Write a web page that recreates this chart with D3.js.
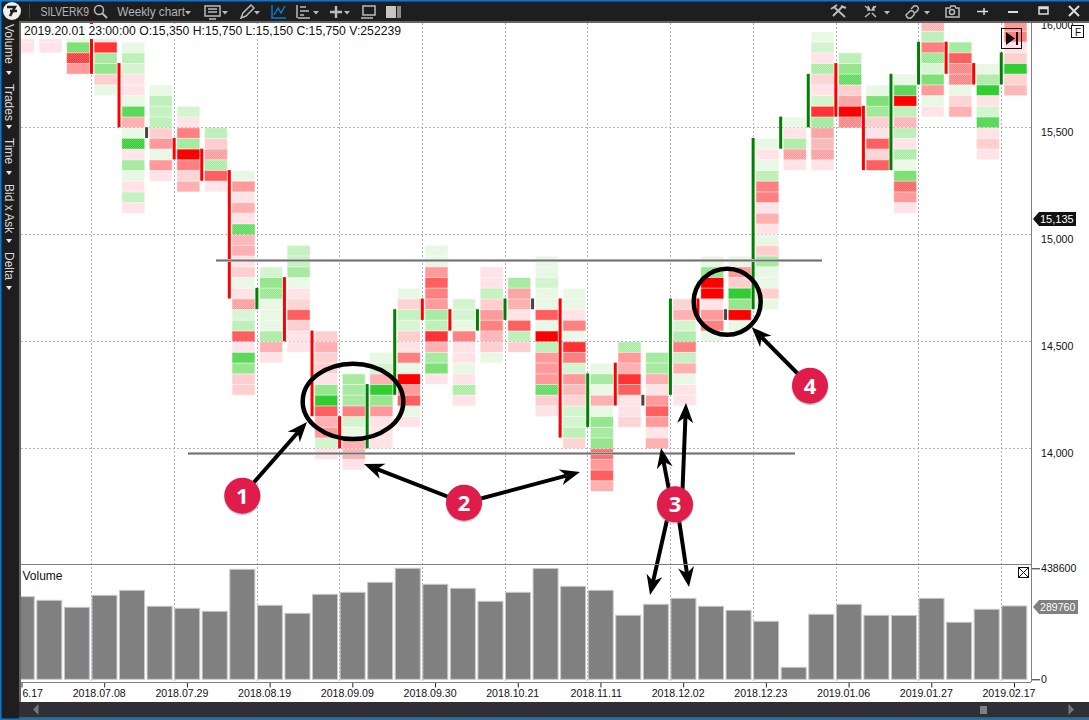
<!DOCTYPE html>
<html>
<head>
<meta charset="utf-8">
<script src="https://d3js.org/d3.v7.min.js"></script>
<style>
  html, body { margin: 0; padding: 0; background: white; overflow: hidden; }
  svg { display: block; }
  text { font-family: "Liberation Sans", Arial, sans-serif; }
</style>
</head>
<body>
<script>
// 37 weekly columns, index 0 is cut off by the left edge of the plot
const tickIndex = [0, 3, 6, 9, 12, 15, 18, 21, 24, 27, 30, 33, 36];
const tickLabels = ["6.17", "2018.07.08", "2018.07.29", "2018.08.19", "2018.09.09", "2018.09.30", "2018.10.21",
  "2018.11.11", "2018.12.02", "2018.12.23", "2019.01.06", "2019.01.27", "2019.02.17"];
const priceTicks = [14000, 14500, 15000, 15500, 16000];

const volumes = [326600, 312100, 284500, 331900, 351600, 288400, 280500, 268700, 434600, 292400, 260800, 335800,
  343700, 383200, 438600, 375300, 359500, 308200, 343700, 438000, 367400, 351600, 252900, 296300, 320000, 288400,
  272600, 229200, 47400, 256800, 296300, 252900, 252239, 320000, 225200, 276600, 289760];

// candle body per column, dir: 1 green, -1 red, 0 grey doji
const bodyHigh = [null, null, null, 16000, 15800, 15500, 15450, 15400, 15300, 14750, 14800, 14550, 14150, 14300, 14650,
  14700, 14650, 14650, 14700, 14700, 14700, 14350, 14400, 14250, 14700, 14700, 14650, 15450, 15550, 15750, 15800,
  15600, 15750, 15900, 15900, 15800, 15850];
const bodyLow = [null, null, null, 15750, 15500, 15450, 15350, 15250, 14700, 14650, 14500, 14150, 14000, 14000, 14250,
  14600, 14550, 14550, 14600, 14650, 14050, 14100, 14200, 14200, 14250, 14600, 14600, 14650, 15400, 15500, 15550,
  15300, 15300, 15700, 15750, 15700, 15700];
const bodyDir = [0, 0, 0, -1, -1, 0, -1, -1, -1, 1, -1, -1, -1, 1, 1, -1, -1, 1, 1, 0, -1, 1, -1, 0, 1, -1, 0, 1, 1, 1, -1,
  -1, 1, 1, -1, -1, 1];

// price of the top row of each footprint column
const topRow = [15950, 15950, 15950, 15950, 15900, 15700, 15600, 15500, 15300, 14850, 14950, 14550, 14350, 14450, 14750,
  14950, 14700, 14850, 14800, 14900, 14750, 14400, 14500, 14450, 14700, 14900, 14900, 15450, 15550, 15950, 15850,
  15700, 15750, 16000, 15900, 15800, 16000];

// delta of each footprint row from the top row downward, -8 full red .. 8 full green
const deltas = [
  [-1, -1],
  [-1, -1],
  [1, 6, -7, -4],
  [-1, -7, 4, 5, -2, 1],
  [1, 3, 2, -1, -1, 1, 7, -3, 1, 8, -1, 4, 1, -1, 3, -1],
  [1, 3, 3, 3, -2, -4, 1, -4, -1],
  [2, -1, -5, 4, -8, -5, -2, -3],
  [3, -2, -4, 4, -6, -1],
  [1, -4, -1, -3, -1, 7, -3, -3, -1, -2, 1, -1, -4, 2, 3, -6, -1, 7, 5, -2, -2],
  [2, 5, 5, 1, 1, 1, 4, -3, -1],
  [3, 3, 4, 1, -1, -2, -6, -2, -1, -1],
  [-2, -3, -2, -2, -1, 5, 8, -6, -3, -4, 2, -1],
  [4, 4, 4, -5, 2, 1, -3, -3, -1],
  [1, 2, -3, 8, 5, -4, -1, -1, -1],
  [1, -2, 3, 2, -2, -1, -5, 1, -8, -4, -6, 1, -1],
  [1, 1, -4, -6, -5, -4, 4, 3, -7, -3, 4, 6, -1],
  [2, 2, 1, -5, -1, -1, 1, -1, 4, -1],
  [-1, -1, 3, -2, -4, -5, -3, -2, 1],
  [4, -4, -3, -1, -6, 3, -2],
  [1, 1, 2, 1, 1, -6, 1, -8, 3, -4, -4, -4, 7, -2, -1],
  [1, 1, -1, -5, 1, -7, -5, 2, -4, -3, -2, 2, 2, 3, -2],
  [1, 4, 1, -3, 1, 5, 4, 5, -6, -4, -6, -3],
  [4, -4, -3, -7, -6, -1, -1, -2],
  [4, 4, -3, -1, -4, -6, -4, -1, -3],
  [-2, -3, 2, 4, -5, 3, -3, 1, -1, -1],
  [1, 5, -8, -8, -1, -4, -5, 1],
  [1, -4, -2, 8, 5, -8, 1],
  [1, -1, 1, 3, -5, -5, -1, -3, -1, 1, -2, 4, 1, 1, -2, 1],
  [1, -1, 4, -4, -1],
  [1, 2, -1, 4, -2, -1, 2, -7, 4, -4, -3, -4, -1],
  [3, 5, 7, -2, -4, -8, -5],
  [1, 6, 5, -2, -1, -6, -2, -6],
  [1, 7, -8, 3, -3, 3, -1, 4, 1, 6, -6, -4, -1],
  [-3, 3, -5, 5, 2, 6, -4, 1, -1],
  [4, -6, -5, -5, 1, -2, -3],
  [1, 4, 8, -1, 2, 7, -1, -2, -1],
  [-4, -5, -1, -2, 8, -2, -3]
];

// rows that look speckled in the picture: [column, price]
const speckled = [[2, 15850], [4, 15500], [4, 15450], [4, 15400], [4, 15200], [5, 15600], [6, 15300], [7, 15400], [7, 15350],
  [7, 15250], [8, 15050], [8, 15000], [8, 14700], [8, 14650], [8, 14500], [9, 14750], [9, 14550], [10, 14950], [10, 14900],
  [10, 14800], [10, 14700], [14, 14700], [14, 14650], [14, 14600], [16, 14300], [17, 14750], [17, 14550], [18, 14750],
  [19, 14300], [20, 14550], [20, 14300], [20, 14250], [20, 14050], [21, 14000], [22, 14500], [22, 14150], [23, 14100],
  [24, 14700], [24, 14550], [24, 14450], [28, 15450], [28, 15400], [29, 15800], [29, 15750], [29, 15500], [29, 15450],
  [29, 15400], [30, 15750], [30, 15650], [30, 15550], [31, 15600], [31, 15400], [32, 15550], [32, 15400], [32, 15350],
  [32, 15250], [33, 16000], [33, 15850], [33, 15800], [34, 15800], [34, 15750], [34, 15650], [35, 15750], [36, 15750], [36, 15700]];

const infoLine = "2019.20.01 23:00:00 O:15,350 H:15,750 L:15,150 C:15,750 V:252239";
const lastPrice = 15135;
const lastVolume = 289760;
const volumeMax = 438600;

const width = 1089, height = 720;
const plotL = 21, plotR = 1031, plotT = 23, mainB = 564, volB = 682;
const axisFont = 10.6;

const x = d3.scaleLinear().domain([0, 36]).range([21.5, 1014]);
const y = d3.scaleLinear().domain([14000, 15500]).range([448.3, 127.3]);
const yVol = d3.scaleLinear().domain([0, volumeMax]).range([679.3, 568.3]);
const rowH = y(15000) - y(15050);
const left = i => x(i) - 12.75;

const color = d3.scaleLinear()
  .domain([-8, -7, -6, -5, -4, -3, -2, -1, 1, 2, 3, 4, 5, 6, 7, 8])
  .range(["#ff0000", "#ff3333", "#ff5f5f", "#ff8080", "#ff9a9a", "#ffb0b0", "#ffcfcf", "#ffe3e6",
    "#e8f8e4", "#d4f4cf", "#bff0b9", "#a9eaa3", "#96e68e", "#7fe078", "#5cd95c", "#33cc33"]);

const svg = d3.select("body").append("svg").attr("width", width).attr("height", height);
svg.append("rect").attr("width", width).attr("height", height).attr("fill", "white");

const defs = svg.append("defs");
defs.append("clipPath").attr("id", "plotClip").append("rect")
  .attr("x", plotL).attr("y", plotT).attr("width", plotR - plotL).attr("height", mainB - plotT);
defs.append("clipPath").attr("id", "volClip").append("rect")
  .attr("x", plotL).attr("y", mainB).attr("width", plotR - plotL).attr("height", volB - mainB);
const speck = defs.append("pattern").attr("id", "speck").attr("patternUnits", "userSpaceOnUse").attr("width", 2).attr("height", 2);
speck.append("rect").attr("width", 1).attr("height", 1).attr("fill", "white").attr("opacity", 0.22);
speck.append("rect").attr("x", 1).attr("y", 1).attr("width", 1).attr("height", 1).attr("fill", "white").attr("opacity", 0.22);

// grid
const grid = svg.append("g").attr("stroke", "#b3b0d6").attr("stroke-dasharray", "2,2").attr("stroke-width", 1);
grid.selectAll("line.v").data(tickIndex.slice(1)).enter().append("line").attr("class", "v")
  .attr("x1", d => Math.round(x(d) - 13) + 0.5).attr("x2", d => Math.round(x(d) - 13) + 0.5)
  .attr("y1", plotT).attr("y2", volB);
grid.selectAll("line.h").data(priceTicks.slice(0, 4)).enter().append("line").attr("class", "h")
  .attr("x1", plotL).attr("x2", plotR)
  .attr("y1", d => Math.round(y(d)) + 0.5).attr("y2", d => Math.round(y(d)) + 0.5);

// footprint cells
const cells = [];
deltas.forEach((col, i) => col.forEach((v, k) => cells.push({ i: i, price: topRow[i] - k * 50, v: v })));
const main = svg.append("g").attr("clip-path", "url(#plotClip)");
main.selectAll("rect.cell").data(cells).enter().append("rect").attr("class", "cell")
  .attr("x", d => left(d.i) + 3.2)
  .attr("y", d => y(d.price) + 0.9)
  .attr("width", 22)
  .attr("height", rowH - 1)
  .attr("fill", d => color(d.v))
  .attr("stroke", d => color(d.v))
  .attr("stroke-opacity", 0.45);
main.selectAll("rect.speck").data(speckled).enter().append("rect").attr("class", "speck")
  .attr("x", d => left(d[0]) + 3.2)
  .attr("y", d => y(d[1]) + 0.9)
  .attr("width", 22)
  .attr("height", rowH - 1)
  .attr("fill", "url(#speck)");

// candle bodies
const bodies = d3.range(37).filter(i => bodyHigh[i] !== null);
main.selectAll("rect.body").data(bodies).enter().append("rect").attr("class", "body")
  .attr("x", i => left(i) - 1.5)
  .attr("y", i => y(bodyHigh[i]))
  .attr("width", 3)
  .attr("height", i => y(bodyLow[i]) - y(bodyHigh[i]))
  .attr("fill", i => bodyDir[i] > 0 ? "#008000" : bodyDir[i] < 0 ? "#ff0000" : "#444444");

// volume pane
svg.append("g").attr("clip-path", "url(#volClip)")
  .selectAll("rect").data(volumes).enter().append("rect")
  .attr("x", (d, i) => left(i) + 0.5)
  .attr("y", d => yVol(d))
  .attr("width", 25)
  .attr("height", d => yVol(0) - yVol(d))
  .attr("fill", "#808080")
  .attr("stroke", "#c8c8c8")
  .attr("stroke-width", 1);
svg.append("text").attr("x", 22.5).attr("y", 580).attr("font-size", 12).attr("fill", "#111").text("Volume");

// hand drawn levels, rings, arrows and badges on top of the chart
[[216, 822, 260.5], [188, 795, 453.5]].forEach(l => {
  svg.append("line").attr("x1", l[0]).attr("x2", l[1]).attr("y1", l[2]).attr("y2", l[2])
    .attr("stroke", "#c4c4c4").attr("stroke-width", 3);
  svg.append("line").attr("x1", l[0]).attr("x2", l[1]).attr("y1", l[2]).attr("y2", l[2])
    .attr("stroke", "#707070").attr("stroke-width", 1.5);
});
[[353, 401.4, 50.3, 37.7], [727.2, 301.7, 33.5, 33]].forEach(e => {
  svg.append("ellipse").attr("cx", e[0]).attr("cy", e[1]).attr("rx", e[2]).attr("ry", e[3])
    .attr("fill", "none").attr("stroke", "#000").attr("stroke-width", 4.5);
});

function arrow(x0, y0, x1, y1) {
  const len = Math.hypot(x1 - x0, y1 - y0), ux = (x1 - x0) / len, uy = (y1 - y0) / len;
  const nx = -uy, ny = ux, head = 20, half = 8, notch = 14;
  svg.append("line").attr("x1", x0).attr("y1", y0).attr("x2", x1 - ux * notch).attr("y2", y1 - uy * notch)
    .attr("stroke", "#000").attr("stroke-width", 4);
  svg.append("path").attr("fill", "#000").attr("d", "M" + x1 + "," + y1 +
    "L" + (x1 - ux * head + nx * half) + "," + (y1 - uy * head + ny * half) +
    "L" + (x1 - ux * notch) + "," + (y1 - uy * notch) +
    "L" + (x1 - ux * head - nx * half) + "," + (y1 - uy * head - ny * half) + "Z");
}
arrow(242, 496, 307, 422);
arrow(464, 503, 364, 464);
arrow(464, 503, 580, 472);
arrow(669, 490, 661, 448);
arrow(682.5, 490, 686, 403);
arrow(667, 520, 650, 595);
arrow(679, 520, 689, 587);
arrow(810, 386, 751.7, 327.3);

[[242.3, 495.7, "1"], [464, 502.7, "2"], [675, 504.3, "3"], [810, 385.7, "4"]].forEach(b => {
  svg.append("circle").attr("cx", b[0]).attr("cy", b[1] + 1).attr("r", 18.5).attr("fill", "#999").attr("opacity", 0.5);
  svg.append("circle").attr("cx", b[0]).attr("cy", b[1]).attr("r", 18).attr("fill", "#e01c4b");
  svg.append("text").attr("x", b[0]).attr("y", b[1] + 8).attr("text-anchor", "middle")
    .attr("font-size", 22).attr("font-weight", "bold").attr("fill", "white").style("font-family", "'Open Sans'").text(b[2]);
});

// info band hides the top of the chart
svg.append("rect").attr("x", plotL).attr("y", plotT + 1).attr("width", 381).attr("height", 15).attr("fill", "white");
svg.append("text").attr("x", 24).attr("y", 35).attr("font-size", 12.2).attr("fill", "#111").text(infoLine);

// price axis
const priceAxis = svg.append("g").attr("transform", "translate(" + plotR + ",0)")
  .call(d3.axisRight(y).tickValues(priceTicks).tickSize(0).tickFormat(d3.format(",")));
priceAxis.select(".domain").remove();
priceAxis.selectAll("text").attr("x", 10).attr("dy", "0.8em").attr("font-size", axisFont).attr("fill", "#111")
  .style("font-family", "'Liberation Sans'");

// volume axis
const volAxis = svg.append("g").attr("transform", "translate(" + plotR + ",0)")
  .call(d3.axisRight(yVol).tickValues([0, volumeMax]).tickSize(9).tickFormat(d3.format("d")));
volAxis.select(".domain").remove();
volAxis.selectAll("line").attr("stroke", "#222");
volAxis.selectAll("text").attr("x", 10).attr("font-size", axisFont).attr("fill", "#111")
  .style("font-family", "'Liberation Sans'");

// date axis, labels end a little right of their tick
const dateAxis = svg.append("g")
  .attr("transform", "translate(0," + (volB + 0.5) + ")")
  .call(d3.axisBottom(x).tickValues(tickIndex).tickSize(5).tickFormat((d, i) => tickLabels[i]));
dateAxis.select(".domain").remove();
dateAxis.selectAll("line").attr("stroke", "#222");
dateAxis.selectAll("text").attr("x", 21).attr("y", 7).attr("font-size", axisFont).attr("fill", "#111")
  .attr("text-anchor", "end").style("font-family", "'Liberation Sans'");

// pane frame
const frame = svg.append("g").attr("stroke", "#808080").attr("stroke-width", 1);
frame.append("line").attr("x1", plotL).attr("x2", plotR).attr("y1", mainB + 0.5).attr("y2", mainB + 0.5);
frame.append("line").attr("x1", plotL).attr("x2", plotR).attr("y1", volB + 0.5).attr("y2", volB + 0.5);
frame.append("line").attr("x1", plotR + 0.5).attr("x2", plotR + 0.5).attr("y1", plotT).attr("y2", volB);

// value tags
svg.append("path").attr("fill", "#111").attr("d", "M1033,219 L1039,212 H1076 V226 H1039 Z");
svg.append("text").attr("x", 1040).attr("y", 223).attr("font-size", 11).attr("fill", "white").text(d3.format(",")(lastPrice));
svg.append("path").attr("fill", "#808080").attr("d", "M1033,607 L1039,600 H1078 V614 H1039 Z");
svg.append("text").attr("x", 1040).attr("y", 611).attr("font-size", axisFont).attr("fill", "white").text(lastVolume);

// small boxes in the plot
svg.append("rect").attr("x", 1001.5).attr("y", 28.5).attr("width", 20).attr("height", 20).attr("fill", "none").attr("stroke", "#111");
svg.append("path").attr("fill", "#111").attr("d", "M1006,32 L1015,38.5 L1006,45 Z M1016,32 H1018 V45 H1016 Z");
svg.append("rect").attr("x", 1071.5).attr("y", 25.5).attr("width", 12).attr("height", 12).attr("fill", "white").attr("stroke", "#111");
svg.append("text").attr("x", 1075).attr("y", 35.5).attr("font-size", 10).attr("fill", "#111").text("F");
svg.append("rect").attr("x", 1018.5).attr("y", 567.5).attr("width", 10).attr("height", 10).attr("fill", "none").attr("stroke", "#111");
svg.append("path").attr("stroke", "#111").attr("fill", "none").attr("d", "M1019,568 L1028,577 M1028,568 L1019,577");

// window chrome
const chrome = svg.append("g");
chrome.append("rect").attr("x", 0).attr("y", 0).attr("width", width).attr("height", 21).attr("fill", "#1e1e1e");
chrome.append("rect").attr("x", 0).attr("y", 21).attr("width", width).attr("height", 2).attr("fill", "#666");
chrome.append("rect").attr("x", 0).attr("y", 0).attr("width", width).attr("height", 1.5).attr("fill", "#0a78d2");
chrome.append("rect").attr("x", 0).attr("y", 21).attr("width", 19).attr("height", height - 21).attr("fill", "#1e1e1e");
chrome.append("rect").attr("x", 19).attr("y", 21).attr("width", 2).attr("height", 681).attr("fill", "#666");
chrome.append("rect").attr("x", 19).attr("y", 702).attr("width", width - 19).attr("height", 15).attr("fill", "#2f2f35");
chrome.append("rect").attr("x", 19).attr("y", 717).attr("width", width - 19).attr("height", 2).attr("fill", "#555");
chrome.append("rect").attr("x", 0).attr("y", 718.5).attr("width", width).attr("height", 1.5).attr("fill", "#0a78d2");
chrome.append("rect").attr("x", 0).attr("y", 0).attr("width", 1.5).attr("height", height).attr("fill", "#0a78d2");

// scrollbar
chrome.append("path").attr("fill", "#777").attr("d", "M33,709.5 L38.5,704 V715 Z M1074,709.5 L1068.5,704 V715 Z");
chrome.append("rect").attr("x", 980).attr("y", 706).attr("width", 7).attr("height", 8).attr("fill", "#808080");

// side tabs
[["Volume", 24, 73], ["Trades", 84, 127], ["Time", 138, 173], ["Bid x Ask", 184, 241], ["Delta", 252, 288]].forEach(t => {
  chrome.append("text").attr("transform", "translate(5," + t[1] + ") rotate(90)")
    .attr("font-size", 12).attr("fill", "#dcdcdc").text(t[0]);
  chrome.append("path").attr("fill", "#e8e8e8").attr("d", "M6," + (t[2] - 2) + " h6 l-3,4 Z");
});

// toolbar
chrome.append("circle").attr("cx", 12).attr("cy", 11).attr("r", 9).attr("fill", "#f0f0f0");
chrome.append("path").attr("fill", "none").attr("stroke", "#1e1e1e").attr("stroke-width", 2.5).attr("d", "M7,7 H15 L10,16 M10,11 H17");
chrome.append("line").attr("x1", 29.5).attr("x2", 29.5).attr("y1", 4).attr("y2", 18).attr("stroke", "#444");
chrome.append("text").attr("x", 40.5).attr("y", 16).attr("font-size", 12).attr("fill", "#b4b4b4")
  .attr("textLength", 48.6).attr("lengthAdjust", "spacingAndGlyphs").text("SILVERK9");
chrome.append("text").attr("x", 117.3).attr("y", 16).attr("font-size", 12).attr("fill", "#b4b4b4")
  .attr("textLength", 67.7).attr("lengthAdjust", "spacingAndGlyphs").text("Weekly chart");

const icon = chrome.append("g").attr("fill", "none").attr("stroke", "#bbb").attr("stroke-width", 1.5);
icon.append("circle").attr("cx", 99).attr("cy", 10).attr("r", 4.5);
icon.append("path").attr("stroke-width", 2).attr("d", "M102.5,13.5 L107,18");
icon.append("path").attr("d", "M205,6 H220 V16 H205 Z M208,9 H217 M208,12 H217 M209,19 H216");
icon.append("path").attr("d", "M241,18 L243,13 L251,5 L254,8 L246,16 Z");
icon.append("path").attr("stroke", "#0b78d0").attr("d", "M272,5 V18 H286 M274,15 L278,8 L281,13 L285,6");
icon.append("path").attr("d", "M297,5 V18 M300,7 H306 M300,11 H309 M300,15 H304 M298,18 H310");
icon.append("path").attr("stroke-width", 2.5).attr("d", "M330,12 H342 M336,6 V18");
icon.append("path").attr("d", "M363,6 H375 V15 H363 Z M361,18 H373");
icon.append("path").attr("fill", "#c8c4c0").attr("stroke", "none").attr("d", "M386,6 H396 V18 H386 Z");
icon.append("path").attr("fill", "#8a8a8a").attr("stroke", "none").attr("d", "M397,6 H401 V18 H397 Z");
// tools
icon.append("path").attr("stroke-width", 2).attr("d", "M834,7 L845,17 M843,6 L833,16 M831,9 L837,5 M841,6 L846,8");
// collapse
icon.append("path").attr("d", "M865,6 L870,10 M876,6 L872,10 M865,17 L870,13 M876,17 L872,13 M868,6 L870,10 L867,10 M874,6 L872,10 L875,10");
// link
icon.append("path").attr("d", "M906,15 L910,11 A3,3 0 0 1 914,15 L912,17 A3,3 0 0 1 907,17 Z M911,9 L914,6 A3,3 0 0 1 918,10 L915,13");
// camera, pin, window buttons
icon.append("path").attr("d", "M946,8 H950 L951,6 H955 L956,8 H959 V17 H946 Z");
icon.append("circle").attr("cx", 952).attr("cy", 12).attr("r", 2.5);
icon.append("path").attr("stroke", "#ddd").attr("d", "M977,11.5 H988 M984,8 V15");
icon.append("path").attr("stroke", "#ddd").attr("stroke-width", 2).attr("d", "M1008,12 H1018");
icon.append("path").attr("stroke", "#ddd").attr("d", "M1039,7 H1048 V14 H1039 Z M1039,8.5 H1048");
icon.append("path").attr("stroke", "#ddd").attr("stroke-width", 2).attr("d", "M1069,6 L1079,16 M1079,6 L1069,16");

// little carets next to toolbar menus
[188, 225, 257, 316, 347, 887, 927].forEach(cx => {
  chrome.append("path").attr("fill", "#bbb").attr("d", "M" + (cx - 3) + ",11 h6 l-3,3.5 Z");
});
</script>
</body>
</html>
